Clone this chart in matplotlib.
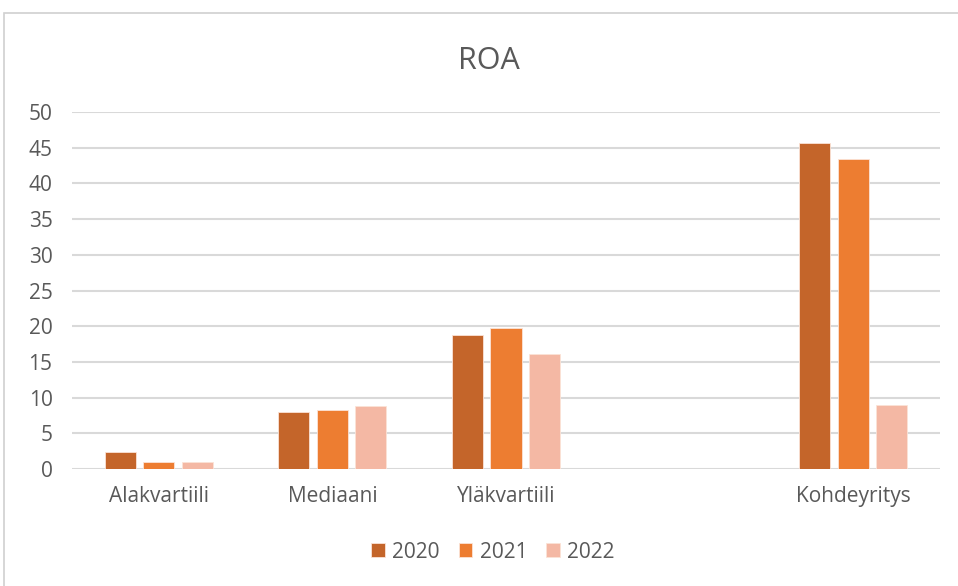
import matplotlib
matplotlib.use("Agg")
import matplotlib.pyplot as plt
import numpy as np
from matplotlib.patches import Rectangle

categories = ["Alakvartiili", "Mediaani", "Yläkvartiili", "", "Kohdeyritys"]
series_names = ["2020", "2021", "2022"]
roa_2020 = [2.4, 8.0, 18.8, None, 45.6]
roa_2021 = [1.0, 8.2, 19.7, None, 43.4]
roa_2022 = [1.0, 8.8, 16.1, None, 8.9]
y_ticks = [0, 5, 10, 15, 20, 25, 30, 35, 40, 45, 50]

colors = ["#C4652A", "#ED7D31", "#F4B8A4"]
text_color = "#595959"
grid_color = "#D9D9D9"

plt.rcParams["font.family"] = ["Open Sans", "DejaVu Sans"]

W, H = 958, 586
fig = plt.figure(figsize=(W / 100, H / 100), dpi=100)
fig.patch.set_facecolor("white")

# chart frame
fig.patches.append(Rectangle((4 / W, -0.1), 1.1, 1 - 13 / H + 0.1,
                             transform=fig.transFigure, fill=False,
                             edgecolor="#D0D0D0", linewidth=1.2))

ax = fig.add_axes([72 / W, 1 - 469 / H, (940 - 72) / W, (469 - 112) / H])

x = np.arange(len(categories))
slot = 0.222
bar_w = 0.179
for i, (vals, name) in enumerate(zip([roa_2020, roa_2021, roa_2022], series_names)):
    xs = [xi + (i - 1) * slot for xi, v in zip(x, vals) if v is not None]
    vs = [v for v in vals if v is not None]
    ax.bar(xs, vs, width=bar_w, color=colors[i], edgecolor="#FBE3D6",
           linewidth=0.6, label=name, zorder=3)

ax.set_xlim(-0.5, len(categories) - 0.5)
ax.set_ylim(0, 50)
ax.set_yticks(y_ticks)
ax.set_xticks(x)
ax.set_xticklabels(categories)
ax.tick_params(axis="both", length=0, colors=text_color, labelsize=15)
ax.tick_params(axis="x", pad=12)
ax.tick_params(axis="y", pad=14)
ax.yaxis.grid(True, color=grid_color, linewidth=1.5, zorder=0)
for s in ax.spines.values():
    s.set_visible(False)

fig.text(489 / W, 1 - 69 / H, "ROA", ha="center", va="baseline",
         fontsize=22, color=text_color)

leg = ax.legend(loc="center", bbox_to_anchor=(493 / W, 1 - 552 / H),
                bbox_transform=fig.transFigure, ncol=3, frameon=False,
                fontsize=15, handlelength=0.66, handleheight=0.66,
                handletextpad=0.35, columnspacing=0.9, labelcolor=text_color,
                borderpad=0)

fig.savefig("out.png", dpi=100)
